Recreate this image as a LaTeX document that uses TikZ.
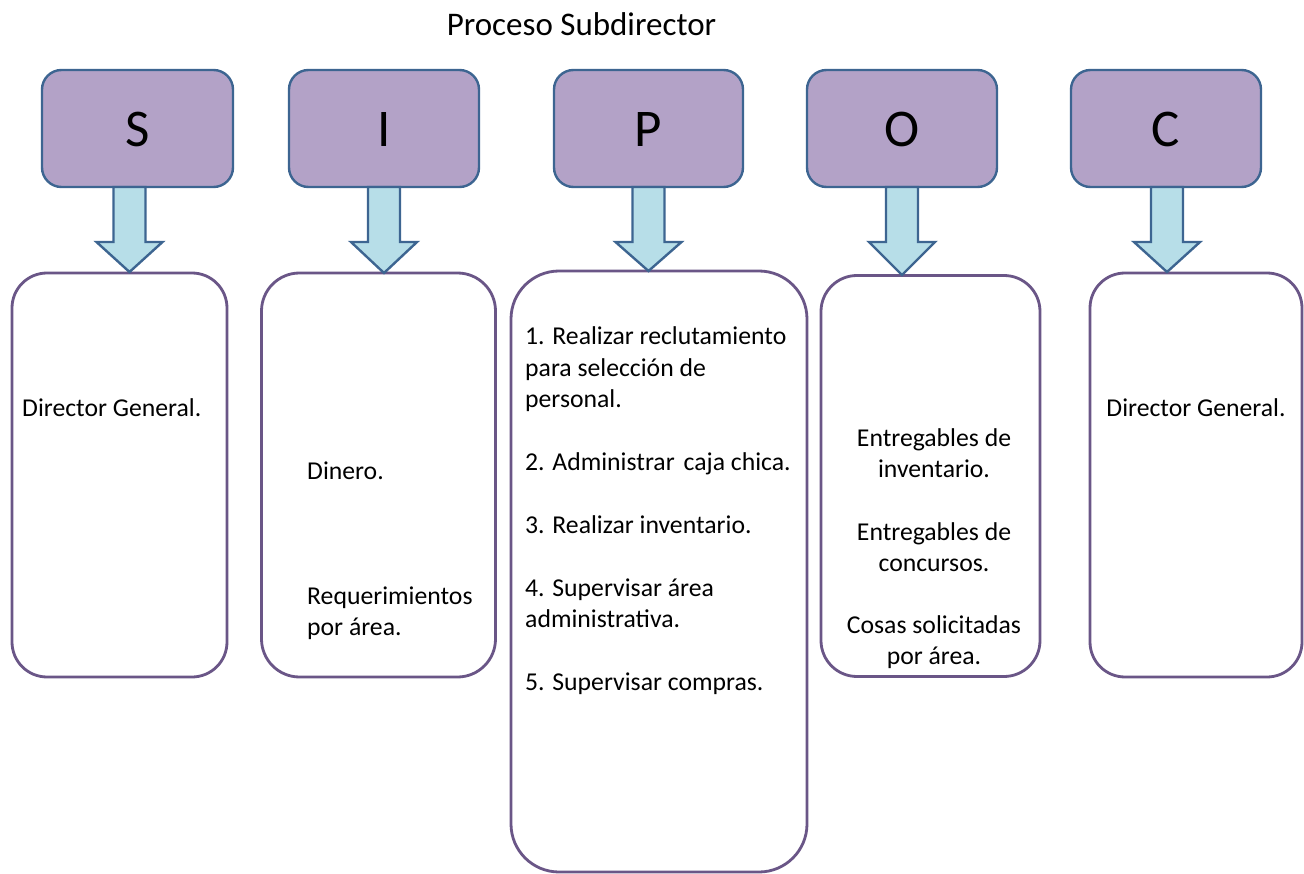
\documentclass[tikz,border=0pt]{standalone}
\usepackage{fontspec}
\setmainfont{Carlito}
\definecolor{hdrfill}{HTML}{B3A2C7}
\definecolor{hdrline}{HTML}{3D6591}
\definecolor{arrfill}{HTML}{B7DEE8}
\definecolor{arrline}{HTML}{3D6591}
\definecolor{boxline}{HTML}{6A5687}
\newcommand\blockarrow[3]{% x, top y, tip y
  \draw[barrow] (#1-16,#2) -- (#1+16,#2) -- (#1+16,242) -- (#1+33,242) -- (#1,#3) -- (#1-33,242) -- (#1-16,242) -- cycle;}
\begin{document}
\begin{tikzpicture}[x=1pt,y=-1pt,
  hdr/.style={draw=hdrline, line width=2.4pt, fill=hdrfill, rounded corners=19.5pt,
    minimum height=117pt, inner sep=0pt, font=\fontsize{53}{60}\selectfont},
  lbox/.style={draw=boxline, line width=2.8pt, fill=white, inner sep=0pt},
  barrow/.style={draw=arrline, line width=2.4pt, fill=arrfill, line join=miter},
  txt/.style={anchor=base west, inner sep=0pt, font=\fontsize{25.7}{31.3}\selectfont},
  ctxt/.style={anchor=base, inner sep=0pt, font=\fontsize{25.7}{31.3}\selectfont},
  letter/.style={anchor=base, inner sep=0pt, font=\fontsize{53}{60}\selectfont}]
\useasboundingbox[fill=white] (0,0) rectangle (1304,874);

% title
\node[anchor=base, inner sep=0pt, font=\fontsize{33}{40}\selectfont] (title) at (581.5,36) {Proceso Subdirector};

% header boxes
\node[hdr, minimum width=191pt] (hS) at (137.5,128.5) {};
\node[hdr, minimum width=190pt] (hI) at (384,128.5) {};
\node[hdr, minimum width=189pt] (hP) at (648.5,128.5) {};
\node[hdr, minimum width=190pt] (hO) at (902,128.5) {};
\node[hdr, minimum width=190pt] (hC) at (1166,128.5) {};
\node[letter] (lS) at (137.5,147) {S};
\node[letter] (lI) at (384,147) {I};
\node[letter] (lP) at (648.5,147) {P};
\node[letter] (lO) at (902,147) {O};
\node[letter] (lC) at (1166,147) {C};

% lower boxes
\node[lbox, rounded corners=35pt, minimum width=215pt, minimum height=404pt] (bS) at (119.5,475) {};
\node[lbox, rounded corners=38pt, minimum width=234pt, minimum height=404pt] (bI) at (378.5,475) {};
\node[lbox, rounded corners=48pt, minimum width=296pt, minimum height=601pt] (bP) at (659,571.5) {};
\node[lbox, rounded corners=36pt, minimum width=219pt, minimum height=401pt] (bO) at (930.5,476) {};
\node[lbox, rounded corners=35pt, minimum width=212pt, minimum height=404pt] (bC) at (1196,475) {};

% block arrows
\blockarrow{129.5}{187}{272}
\blockarrow{384}{187}{273}
\blockarrow{648.5}{187}{271}
\blockarrow{902}{187}{275}
\blockarrow{1167}{187}{272}

% S text
\node[txt] (tS) at (22,417) {Director General.};
% I text
\node[txt] (tI1) at (307,479) {Dinero.};
\node[txt] (tI2) at (307,604) {Requerimientos};
\node[txt] (tI3) at (307,635) {por área.};
% P text
\node[txt] (tP1) at (525,345) {1. Realizar reclutamiento};
\node[txt] (tP2) at (525,376.5) {para selección de};
\node[txt] (tP3) at (525,407.5) {personal.};
\node[txt] (tP4) at (525,470) {2. Administrar\hspace{0.35em}caja chica.};
\node[txt] (tP5) at (525,533) {3. Realizar inventario.};
\node[txt] (tP6) at (525,596) {4. Supervisar área};
\node[txt] (tP7) at (525,627) {administrativa.};
\node[txt] (tP8) at (525,690) {5. Supervisar compras.};
% O text
\node[ctxt] (tO1) at (934,446.5) {Entregables de};
\node[ctxt] (tO2) at (934,477.5) {inventario.};
\node[ctxt] (tO3) at (934,540) {Entregables de};
\node[ctxt] (tO4) at (934,571) {concursos.};
\node[ctxt] (tO5) at (934,633) {Cosas solicitadas};
\node[ctxt] (tO6) at (934,664) {por área.};
% C text
\node[ctxt] (tC) at (1196,417) {Director General.};
\end{tikzpicture}
\end{document}
